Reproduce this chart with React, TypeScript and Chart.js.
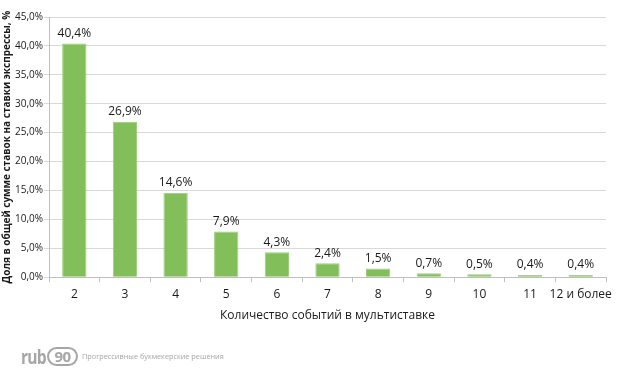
import React, { useEffect, useRef } from "react";
import { Chart, registerables } from "chart.js";

Chart.register(...registerables);

const categories = ["2", "3", "4", "5", "6", "7", "8", "9", "10", "11", "12 и более"];
const shares = [40.4, 26.9, 14.6, 7.9, 4.3, 2.4, 1.5, 0.7, 0.5, 0.4, 0.4];
const yTitle = "Доля в общей сумме ставок на ставки экспрессы, %";
const xTitle = "Количество событий в мультиставке";

const fmt = (v: number, d: number) => v.toFixed(d).replace(".", ",") + "%";

const labelPlugin = {
  id: "valueLabels",
  afterDatasetsDraw(chart: any) {
    const ctx = chart.ctx;
    const meta = chart.getDatasetMeta(0);
    ctx.save();
    ctx.font = "12px 'Open Sans'";
    ctx.fillStyle = "#1a1a1a";
    ctx.textAlign = "center";
    ctx.textBaseline = "bottom";
    meta.data.forEach((el: any, i: number) => {
      ctx.fillText(fmt(shares[i], 1), el.x, el.y - 4);
    });
    ctx.restore();
  },
};

export default function App() {
  const ref = useRef<HTMLCanvasElement>(null);
  useEffect(() => {
    document.body.style.margin = "0";
    const chart = new Chart(ref.current!, {
      type: "bar",
      data: {
        labels: categories,
        datasets: [
          {
            data: shares,
            backgroundColor: "#82bf5a",
            borderColor: "#9ccc7a",
            borderWidth: { top: 1, left: 1, right: 1, bottom: 0 },
            categoryPercentage: 1,
            barPercentage: 0.48,
          },
        ],
      },
      options: {
        animation: false,
        responsive: false,
        maintainAspectRatio: false,
        layout: { padding: { left: 0, right: 12, top: 17, bottom: 53 } },
        plugins: { legend: { display: false }, tooltip: { enabled: false } },
        scales: {
          x: {
            offset: true,
            grid: {
              offset: true,
              drawOnChartArea: false,
              drawTicks: true,
              tickLength: 5,
              color: "#bfbfbf",
            },
            border: { color: "#bfbfbf" },
            ticks: {
              color: "#1a1a1a",
              font: { family: "Open Sans", size: 12 },
              padding: 5,
              maxRotation: 0,
              autoSkip: false,
            },
            title: {
              display: true,
              text: xTitle,
              color: "#1a1a1a",
              font: { family: "Open Sans", size: 12 },
              padding: { top: 2 },
            },
          },
          y: {
            min: 0,
            max: 45,
            ticks: {
              stepSize: 5,
              color: "#1a1a1a",
              font: { family: "Open Sans", size: 10 },
              padding: 1,
              callback: (v: any) => fmt(Number(v), 1),
            },
            grid: { color: "#d9d9d9", tickLength: 5 },
            border: { color: "#bfbfbf" },
            title: {
              display: true,
              text: yTitle,
              color: "#1a1a1a",
              font: { family: "Open Sans", size: 10, weight: "bold" },
              padding: { top: 1, bottom: 1 },
            },
          },
        },
      },
      plugins: [labelPlugin],
    });
    return () => chart.destroy();
  }, []);
  return (
    <div style={{ position: "relative", width: 618, height: 380 }}>
      <canvas ref={ref} width={618} height={380} style={{ display: "block" }} />
      <div
        style={{
          position: "absolute",
          left: 21,
          top: 344,
          height: 24,
          display: "flex",
          alignItems: "center",
          color: "#a6a6a6",
          fontFamily: "'Open Sans', sans-serif",
        }}
      >
        <span
          style={{
            fontSize: 20,
            fontWeight: 700,
            letterSpacing: -1,
            display: "inline-block",
            width: 26,
            transform: "scaleX(0.78)",
            transformOrigin: "left center",
            whiteSpace: "nowrap",
          }}
        >
          rub
        </span>
        <span
          style={{
            boxSizing: "border-box",
            width: 31,
            height: 19,
            fontSize: 15,
            fontWeight: 700,
            border: "2.5px solid #a6a6a6",
            borderRadius: 10,
            display: "flex",
            alignItems: "center",
            justifyContent: "center",
            letterSpacing: -0.5,
          }}
        >
          90
        </span>
        <span style={{ fontSize: 7.3, marginLeft: 4, whiteSpace: "nowrap" }}>
          Прогрессивные букмекерские решения
        </span>
      </div>
    </div>
  );
}
